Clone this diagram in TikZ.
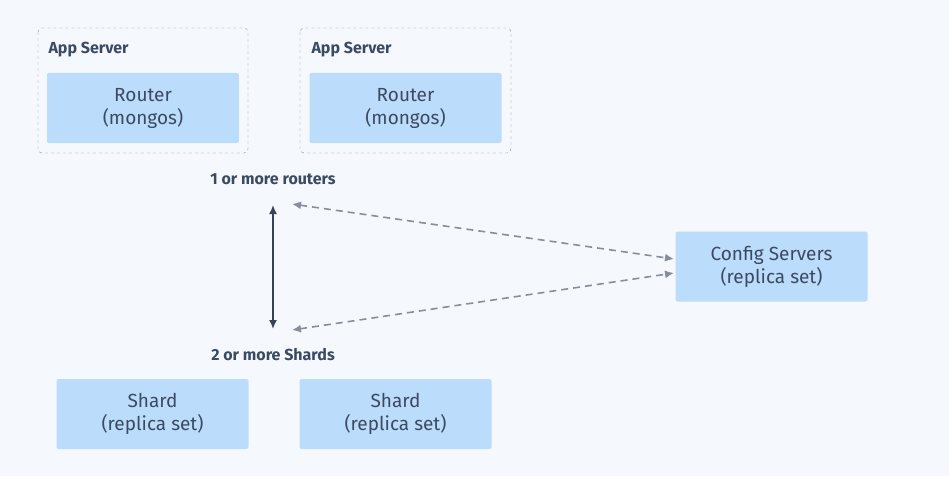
\documentclass[tikz,border=0pt]{standalone}
\usepackage{fontspec}
\setmainfont{Fira Sans}
\usetikzlibrary{arrows.meta}
\definecolor{bg}{HTML}{F5F9FE}
\definecolor{boxc}{HTML}{BBDCFB}
\definecolor{txt}{HTML}{3B4A63}
\definecolor{grayar}{HTML}{878D99}
\definecolor{darkar}{HTML}{3A4257}
\tikzset{
  blk/.style={fill=boxc,draw=none,rounded corners=2pt,minimum width=192pt,minimum height=70pt,align=center,text=txt,font=\fontsize{19}{23}\selectfont},
  grp/.style={draw=grayar,dashed,rounded corners=4pt},
  lbl/.style={text=txt,font=\fontsize{16}{19}\selectfont\bfseries},
  garr/.style={draw=grayar,dashed,line width=1.6pt,dash pattern=on 7pt off 5pt,{Latex[length=9pt,width=8pt]}-{Latex[length=9pt,width=8pt]}},
  darr/.style={draw=darkar,line width=1.6pt,{Latex[length=9pt,width=8pt]}-{Latex[length=9pt,width=8pt]}}
}
\begin{document}
\begin{tikzpicture}[x=1pt,y=-1pt]
\fill[bg] (0,0) rectangle (949,476);
\useasboundingbox (0,0) rectangle (949,476);
\draw[grp] (38,28) rectangle (248,153);
\draw[grp] (300,28) rectangle (511,153);
\node[lbl,anchor=west] (l1) at (45,50) {App Server};
\node[lbl,anchor=west] (l2) at (308,50) {App Server};
\node[blk] (r1) at (143,108) {Router\\(mongos)};
\node[blk] (r2) at (405.5,108) {Router\\(mongos)};
\node[lbl] (t1) at (273,179) {1 or more routers};
\node[lbl] (t2) at (273,355) {2 or more Shards};
\node[blk] (s1) at (152.5,414) {Shard\\(replica set)};
\node[blk] (s2) at (395.5,414) {Shard\\(replica set)};
\node[blk] (cfg) at (771.5,266.5) {Config Servers\\(replica set)};
\coordinate (a1) at (273,205);
\coordinate (a2) at (273,329);
\draw[darr] (a1) -- (a2);
\coordinate (g1) at (292,204);
\coordinate (g2) at (674,259);
\coordinate (g3) at (292,330);
\coordinate (g4) at (674,273);
\draw[garr] (g1) -- (g2);
\draw[garr] (g3) -- (g4);
\end{tikzpicture}
\end{document}
